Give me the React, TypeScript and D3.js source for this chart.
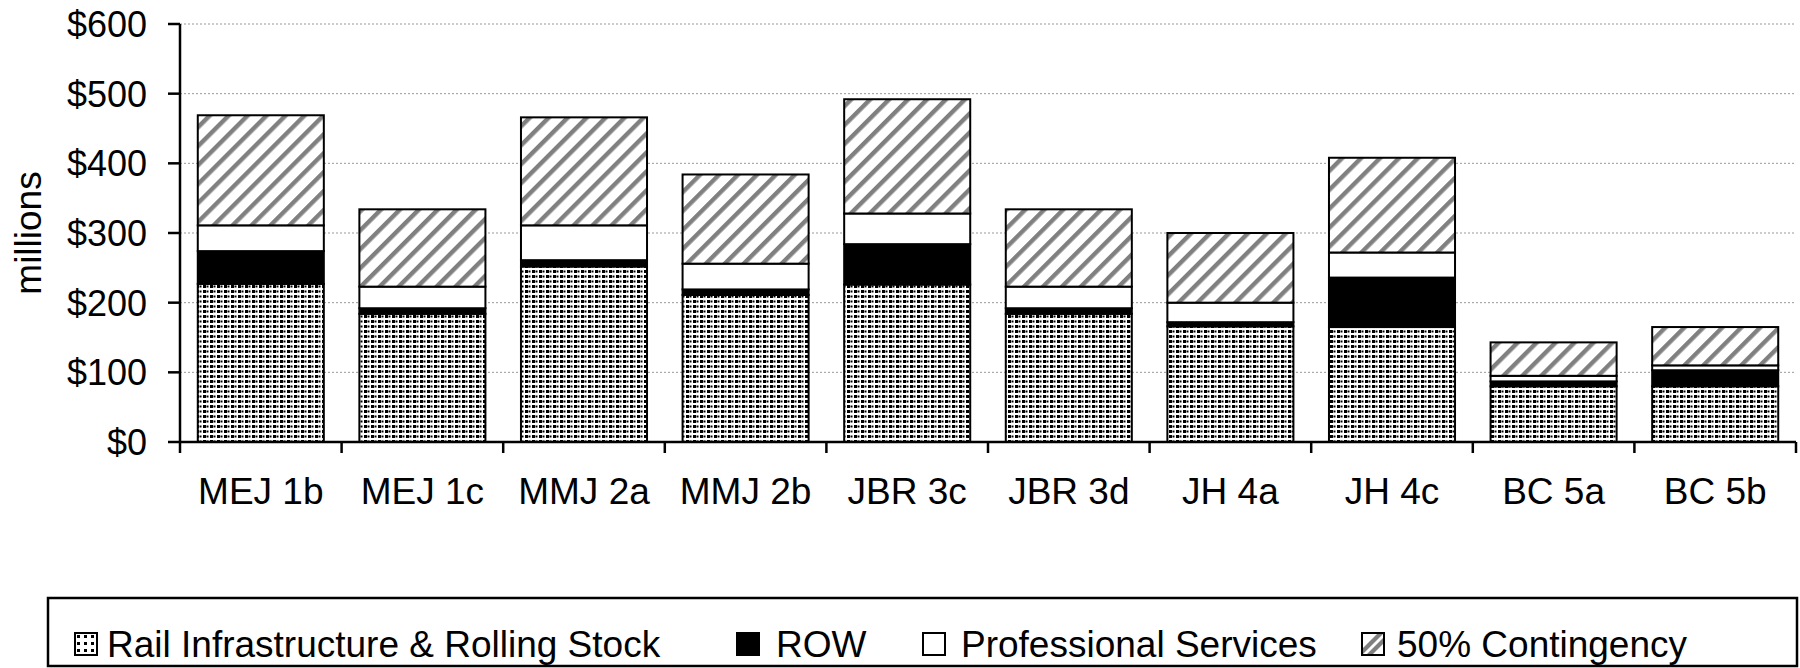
import React from 'react';
import * as d3 from 'd3';

const categories = ['MEJ 1b', 'MEJ 1c', 'MMJ 2a', 'MMJ 2b', 'JBR 3c', 'JBR 3d', 'JH 4a', 'JH 4c', 'BC 5a', 'BC 5b'];
const railInfra = [227, 184, 252, 211, 226, 184, 166, 165, 80, 80];
const rowCost = [47, 8, 9, 8, 58, 8, 6, 71, 7, 23];
const proServices = [37, 31, 50, 37, 44, 31, 28, 36, 8, 7];
const contingency = [158, 111, 155, 128, 164, 111, 100, 136, 48, 55];
const seriesNames = ['Rail Infrastructure & Rolling Stock', 'ROW', 'Professional Services', '50% Contingency'];
const yTicks = [0, 100, 200, 300, 400, 500, 600];

const W = 1800;
const H = 668;
const FONT = '"Liberation Sans", Arial, sans-serif';

export default function App() {
  const left = 180, right = 1796, top = 24, bottom = 442;
  const x = d3.scaleBand<string>().domain(categories).range([left, right]).paddingInner(0.22).paddingOuter(0.11);
  const y = d3.scaleLinear().domain([0, 600]).range([bottom, top]);
  const keys = ['rail', 'row', 'pro', 'cont'];
  const rows = categories.map((c, i) => ({ cat: c, rail: railInfra[i], row: rowCost[i], pro: proServices[i], cont: contingency[i] }));
  const stacked = d3.stack<any>().keys(keys)(rows);
  const fills = ['url(#dots)', '#000', '#fff', 'url(#stripes)'];
  const step = (right - left) / categories.length;
  const boundaries = d3.range(categories.length + 1).map((i) => left + i * step);

  const legendItems = [
    { iconX: 75, textX: 107 },
    { iconX: 737, textX: 776 },
    { iconX: 923, textX: 961 },
    { iconX: 1362, textX: 1397 },
  ];

  return (
    <svg width={W} height={H} style={{ position: 'absolute', left: 0, top: 0, background: '#fff' }} fontFamily={FONT}>
      <defs>
        <pattern id="dots" patternUnits="userSpaceOnUse" width={7} height={5}>
          <rect width={7} height={5} fill="#fff" />
          <rect x={0} y={0} width={3} height={3} fill="#000" />
          <rect x={3.5} y={0.5} width={2} height={2} fill="#000" />
        </pattern>
        <pattern id="stripes" patternUnits="userSpaceOnUse" width={13.4} height={13.4} patternTransform="rotate(45)">
          <rect width={13.4} height={13.4} fill="#fff" />
          <rect x={0} y={0} width={4.4} height={13.4} fill="#808080" />
        </pattern>
        <pattern id="dotsIcon" patternUnits="userSpaceOnUse" x={75} y={633} width={7} height={7}>
          <rect width={7} height={7} fill="#fff" />
          <rect x={2} y={2} width={3} height={3} fill="#000" />
        </pattern>
        <pattern id="stripesIcon" patternUnits="userSpaceOnUse" x={1362} y={633} width={22} height={22}>
          <rect width={22} height={22} fill="#fff" />
          <path d="M0,22 L0,16 L16,0 L22,0 L22,0 L6,16 L6,16 Z" fill="#808080" />
          <path d="M4,22 L22,4 L22,10 L10,22 Z" fill="#808080" />
        </pattern>
      </defs>
      <rect x={0} y={0} width={W} height={H} fill="#fff" />

      {/* gridlines */}
      {yTicks.filter((t) => t > 0).map((t) => (
        <line key={t} x1={left} x2={right} y1={y(t)} y2={y(t)} stroke="#999" strokeWidth={1} strokeDasharray="2,2" />
      ))}

      {/* bars */}
      {stacked.map((s, si) => (
        <g key={keys[si]}>
          {s.map((d, i) => (
            <rect
              key={i}
              x={x(categories[i])}
              y={y(d[1])}
              width={x.bandwidth()}
              height={y(d[0]) - y(d[1])}
              fill={fills[si]}
              stroke="#000"
              strokeWidth={2}
            />
          ))}
        </g>
      ))}

      {/* y axis */}
      <line x1={left} x2={left} y1={top} y2={bottom} stroke="#000" strokeWidth={2.5} />
      {yTicks.map((t) => (
        <g key={t}>
          <line x1={left - 12} x2={left} y1={y(t)} y2={y(t)} stroke="#000" strokeWidth={2.5} />
          <text x={147} y={y(t)} dy="0.36em" textAnchor="end" fontSize={36} fill="#000">
            {'$' + t}
          </text>
        </g>
      ))}
      <text transform={`translate(41,${(top + bottom) / 2}) rotate(-90)`} textAnchor="middle" fontSize={37} fill="#000">
        millions
      </text>

      {/* x axis */}
      <line x1={left} x2={right} y1={bottom} y2={bottom} stroke="#000" strokeWidth={2.5} />
      {boundaries.map((bx, i) => (
        <line key={i} x1={bx} x2={bx} y1={bottom} y2={bottom + 11} stroke="#000" strokeWidth={2.5} />
      ))}
      {categories.map((c) => (
        <text key={c} x={(x(c) as number) + x.bandwidth() / 2} y={491} dy="0.36em" textAnchor="middle" fontSize={37} fill="#000">
          {c}
        </text>
      ))}

      {/* legend */}
      <rect x={48} y={598} width={1749} height={68} fill="#fff" stroke="#000" strokeWidth={2.5} />
      {legendItems.map((it, i) => (
        <g key={i}>
          <rect
            x={it.iconX}
            y={633}
            width={22}
            height={22}
            fill={i === 0 ? 'url(#dotsIcon)' : i === 3 ? 'url(#stripesIcon)' : fills[i]}
            stroke="#000"
            strokeWidth={2}
          />
          <text x={it.textX} y={644} dy="0.36em" fontSize={37} fill="#000">
            {seriesNames[i]}
          </text>
        </g>
      ))}
    </svg>
  );
}
